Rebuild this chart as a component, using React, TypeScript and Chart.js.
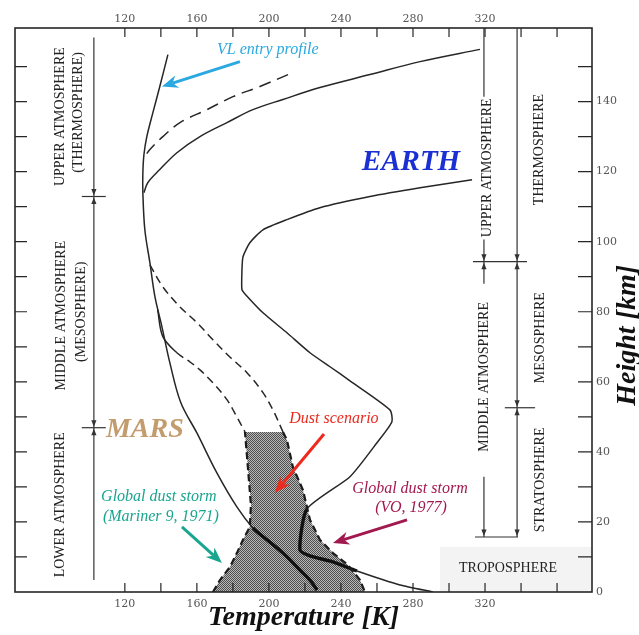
import { useEffect, useRef } from "react";
import { Chart, registerables } from "chart.js";

Chart.register(...registerables);

// Axis ranges: temperature [K] across, height [km] up
const T_MIN = 59;
const T_MAX = 379.4;
const H_MIN = 0;
const H_MAX = 161;

const tempTicks = [120, 140, 160, 180, 200, 220, 240, 260, 280, 300, 320, 340, 360];
const tempTickLabels = [120, 160, 200, 240, 280, 320];
const heightTicks = [0, 10, 20, 30, 40, 50, 60, 70, 80, 90, 100, 110, 120, 130, 140, 150];
const heightTickLabels = [0, 20, 40, 60, 80, 100, 120, 140];

// Mars: Viking lander entry profile
const vlTemp = [143.9, 139.4, 135.6, 132.2, 130.6, 130, 130, 131.1, 133.9, 136.7, 140.6, 145, 151.1, 160, 171.1, 182.2, 191.1, 198.9, 207.8, 217.2, 222.8, 226.7];
const vlHeight = [153.4, 144.3, 136.9, 130, 124.9, 119.7, 114, 103.4, 94, 84.3, 75.7, 65.4, 54, 45.4, 34, 24.3, 18.3, 14.9, 11.1, 6.3, 3.4, 0.6];

// Mars: warm thermosphere branch
const marsHotTemp = [317.2, 283.9, 256.1, 228.3, 207.8, 191.1, 176.7, 161.7, 148.9, 139.4, 132.8, 130.6];
const marsHotHeight = [154.9, 151.4, 147.7, 144, 140.6, 137.7, 134, 130, 125.4, 120.6, 116.9, 114];

// Mars: intermediate thermosphere branch
const marsMidTemp = [210.6, 195, 180, 165.6, 150.6, 141.1, 133.9, 131.1];
const marsMidHeight = [147.7, 144.3, 141.4, 137.7, 134, 130, 126.3, 124.3];

// Mars: dusty middle-atmosphere branches
const dustWarmTemp = [133.9, 141.1, 150.6, 160, 168.9, 178.3, 187.8, 196.7, 202.2, 207.8];
const dustWarmHeight = [93.4, 87.1, 81.4, 76.9, 72, 67.1, 62.6, 56.9, 52, 45.7];
const dustCoolTemp = [138.2, 141.1, 148.9, 156.1, 161.7, 168.9, 176.7, 182.2, 186.7];
const dustCoolHeight = [80.6, 72.9, 68.3, 65.7, 63.4, 59.7, 54.9, 50, 45.7];

// Dust scenario envelope (closed outline)
const envTemp = [186.7, 207.8, 210, 213.3, 218.9, 222.8, 228.3, 235.6, 243.9, 250.6, 253.3, 168.9, 172.8, 178.3, 182.2, 185.6, 189.4, 190, 188.3, 186.7];
const envHeight = [45.7, 45.7, 43.4, 35.7, 29.1, 20.6, 14.9, 11.1, 7.7, 3.4, 0, 0, 3.4, 7.1, 11.1, 14.9, 18.6, 24.9, 35.7, 45.7];

// Earth: standard temperature profile
const earthTemp = [312.8, 283.9, 256.1, 228.3, 210, 196.7, 189.4, 185.6, 185, 185, 186.7, 196.7, 210, 222.8, 233.9, 245, 267.2, 268.3, 260, 245, 221.1, 217.2, 222.8, 235.6, 248.9, 272.8, 291.1];
const earthHeight = [117.7, 115.4, 112.9, 109.7, 106.3, 103.4, 99.7, 95.7, 91.4, 86.3, 85.1, 79.7, 74, 68.3, 64.3, 60.3, 52, 48.6, 42.6, 32.9, 23.7, 12, 10.3, 8.6, 6, 2, 0];

// Layer names: [text, T, h]
const marsLayerNames: [string, number, number][] = [
  ["UPPER ATMOSPHERE", 84.4, 135.7],
  ["(THERMOSPHERE)", 94.4, 136.9],
  ["MIDDLE ATMOSPHERE", 85, 78.9],
  ["(MESOSPHERE)", 95.6, 80],
  ["LOWER ATMOSPHERE", 83.9, 24.9],
];
const earthLayerNames: [string, number, number][] = [
  ["UPPER ATMOSPHERE", 321.1, 121.1],
  ["THERMOSPHERE", 350, 126.3],
  ["MIDDLE ATMOSPHERE", 319.4, 61.4],
  ["MESOSPHERE", 350.6, 72.6],
  ["STRATOSPHERE", 350.6, 32],
];
const troposphereLabel: [string, number, number] = ["TROPOSPHERE", 332.8, 6.9];
const troposphereBox = { t0: 295, h1: 12.9 };

// Layer boundary markers: vertical rules [T, hTop, hBottom, arrowTop, arrowBottom]
const marsLayerRules: [number, number, number, boolean, boolean][] = [
  [102.8, 158.3, 112.9, false, true],
  [102.8, 112.9, 46.9, true, true],
  [102.8, 46.9, 3.4, true, false],
];
const marsLayerBreaks: [number, number, number][] = [
  [112.9, 96.1, 109.4],
  [46.9, 96.1, 109.4],
];
const earthLayerRules: [number, number, number, boolean, boolean][] = [
  [319.4, 161, 141.4, false, false],
  [319.4, 100.6, 94.3, false, true],
  [319.4, 94.3, 88, true, false],
  [319.4, 32.9, 15.7, false, true],
  [337.8, 161, 94.3, false, true],
  [337.8, 94.3, 52.6, true, true],
  [337.8, 52.6, 15.7, true, true],
];
const earthLayerBreaks: [number, number, number][] = [
  [94.3, 313.3, 343.3],
  [52.6, 331, 347.8],
  [15.7, 314.4, 338.3],
];

// Callouts: [text, T, h, colour]
const callouts: [string, number, number, string][] = [
  ["VL entry profile", 199.4, 154.9, "#2aa8e0"],
  ["Dust scenario", 236.1, 49.4, "#ec2a1e"],
  ["Global dust storm", 138.9, 27.1, "#19a58f"],
  ["(Mariner 9, 1971)", 140, 21.4, "#19a58f"],
  ["Global dust storm", 278.3, 29.4, "#a2194f"],
  ["(VO, 1977)", 278.9, 24, "#a2194f"],
];
// Pointers: [T0, h0, T1, h1, colour]
const pointers: [number, number, number, number, string][] = [
  [183.9, 151.4, 140.6, 144.3, "#2aa8e0"],
  [230.6, 45.1, 203.3, 28.3, "#ec2a1e"],
  [151.7, 18.6, 173.9, 8.3, "#19a58f"],
  [276.7, 20.6, 235.6, 14, "#a2194f"],
];
const planetNames: [string, number, number, string, number][] = [
  ["EARTH", 278.9, 122.6, "#1b30d2", 29],
  ["MARS", 131.1, 46.3, "#c29c6c", 28],
];

const INK = "#262626";
const SERIF = '"Liberation Serif", "Times New Roman", serif';

const pts = (xs: number[], ys: number[]) => xs.map((x, i) => ({ x, y: ys[i] }));

// small checkered tile that gives the envelope its halftone look
function halftoneTile() {
  const tile = document.createElement("canvas");
  tile.width = 2;
  tile.height = 2;
  const t = tile.getContext("2d")!;
  t.fillStyle = "#b8b8b8";
  t.fillRect(0, 0, 2, 2);
  t.fillStyle = "#4e4e4e";
  t.fillRect(0, 0, 1, 1);
  t.fillRect(1, 1, 1, 1);
  return tile;
}

const decorations = {
  id: "decorations",
  beforeDatasetsDraw(chart: any) {
    const { ctx, chartArea: a, scales } = chart;
    const X = (t: number) => scales.x.getPixelForValue(t);
    const Y = (h: number) => scales.y.getPixelForValue(h);
    ctx.save();
    // pale panel behind the troposphere label
    const x0 = X(troposphereBox.t0);
    const y0 = Y(troposphereBox.h1);
    ctx.fillStyle = "#f3f3f3";
    ctx.fillRect(x0, y0, a.right - x0, a.bottom - y0);

    // dust envelope fill
    ctx.beginPath();
    ctx.rect(a.left, a.top, a.right - a.left, a.bottom - a.top);
    ctx.clip();
    ctx.beginPath();
    envTemp.forEach((t, i) => {
      const px = X(t);
      const py = Y(envHeight[i]);
      if (i === 0) ctx.moveTo(px, py);
      else ctx.lineTo(px, py);
    });
    ctx.closePath();
    ctx.fillStyle = ctx.createPattern(halftoneTile(), "repeat");
    ctx.fill();
    ctx.restore();
  },
  afterDatasetsDraw(chart: any) {
    const { ctx, chartArea: a, scales } = chart;
    const X = (t: number) => scales.x.getPixelForValue(t);
    const Y = (h: number) => scales.y.getPixelForValue(h);
    ctx.save();

    // frame
    ctx.strokeStyle = INK;
    ctx.lineWidth = 1.6;
    ctx.strokeRect(a.left, a.top, a.right - a.left, a.bottom - a.top);

    // inward tick marks
    ctx.lineWidth = 1.2;
    ctx.beginPath();
    for (const tk of scales.x.ticks) {
      const px = X(tk.value);
      ctx.moveTo(px, a.top);
      ctx.lineTo(px, a.top + 9);
      ctx.moveTo(px, a.bottom);
      ctx.lineTo(px, a.bottom - 9);
    }
    for (const tk of scales.y.ticks) {
      if (tk.value === 0) continue;
      const py = Y(tk.value);
      ctx.moveTo(a.left, py);
      ctx.lineTo(a.left + 12, py);
      ctx.moveTo(a.right, py);
      ctx.lineTo(a.right - 14, py);
    }
    ctx.stroke();

    const vtext = (s: string, px: number, py: number, font: string, color: string) => {
      ctx.save();
      ctx.translate(px, py);
      ctx.rotate(-Math.PI / 2);
      ctx.font = font;
      ctx.fillStyle = color;
      ctx.textAlign = "center";
      ctx.textBaseline = "middle";
      ctx.fillText(s, 0, 0);
      ctx.restore();
    };
    const htext = (s: string, px: number, py: number, font: string, color: string) => {
      ctx.font = font;
      ctx.fillStyle = color;
      ctx.textAlign = "center";
      ctx.textBaseline = "middle";
      ctx.fillText(s, px, py);
    };
    const tri = (px: number, py: number, dir: number) => {
      ctx.beginPath();
      ctx.moveTo(px, py);
      ctx.lineTo(px - 2.6, py - dir * 6.5);
      ctx.lineTo(px + 2.6, py - dir * 6.5);
      ctx.closePath();
      ctx.fill();
    };

    // layer rules and breaks
    ctx.strokeStyle = "#333";
    ctx.fillStyle = "#333";
    ctx.lineWidth = 1.2;
    for (const [t, h0, h1, arTop, arBot] of [...marsLayerRules, ...earthLayerRules]) {
      const px = X(t);
      const y0 = Y(h0);
      const y1 = Y(h1);
      ctx.beginPath();
      ctx.moveTo(px, y0);
      ctx.lineTo(px, y1);
      ctx.stroke();
      if (arTop) tri(px, y0 + 1, -1);
      if (arBot) tri(px, y1 - 1, 1);
    }
    for (const [h, t0, t1] of [...marsLayerBreaks, ...earthLayerBreaks]) {
      ctx.beginPath();
      ctx.moveTo(X(t0), Y(h));
      ctx.lineTo(X(t1), Y(h));
      ctx.stroke();
    }

    const layerFont = `14px ${SERIF}`;
    for (const [s, t, h] of [...marsLayerNames, ...earthLayerNames]) {
      vtext(s, X(t), Y(h), layerFont, "#222");
    }
    htext(troposphereLabel[0], X(troposphereLabel[1]), Y(troposphereLabel[2]), layerFont, "#222");

    // callouts
    for (const [s, t, h, c] of callouts) {
      htext(s, X(t), Y(h), `italic 16px ${SERIF}`, c);
    }
    for (const [t0, h0, t1, h1, c] of pointers) {
      const x0 = X(t0), y0 = Y(h0), x1 = X(t1), y1 = Y(h1);
      const ang = Math.atan2(y1 - y0, x1 - x0);
      const cs = Math.cos(ang), sn = Math.sin(ang);
      const L = 16, W = 6.5;
      const bx = x1 - L * cs, by = y1 - L * sn;
      const nx = x1 - 0.7 * L * cs, ny = y1 - 0.7 * L * sn;
      ctx.strokeStyle = c;
      ctx.fillStyle = c;
      ctx.lineWidth = 3;
      ctx.beginPath();
      ctx.moveTo(x0, y0);
      ctx.lineTo(nx, ny);
      ctx.stroke();
      ctx.beginPath();
      ctx.moveTo(x1, y1);
      ctx.lineTo(bx + W * sn, by - W * cs);
      ctx.lineTo(nx, ny);
      ctx.lineTo(bx - W * sn, by + W * cs);
      ctx.closePath();
      ctx.fill();
    }

    for (const [s, t, h, c, size] of planetNames) {
      htext(s, X(t), Y(h), `italic bold ${size}px ${SERIF}`, c);
    }

    // height axis title, reading upwards on the right
    ctx.save();
    ctx.translate(chart.width - 4, a.top + (a.bottom - a.top) * 0.545);
    ctx.rotate(-Math.PI / 2);
    ctx.font = `italic bold 28px ${SERIF}`;
    ctx.fillStyle = "#111";
    ctx.textAlign = "center";
    ctx.textBaseline = "alphabetic";
    ctx.fillText("Height [km]", 0, 0);
    ctx.restore();

    ctx.restore();
  },
};

export default function App() {
  const canvasRef = useRef<HTMLCanvasElement>(null);

  useEffect(() => {
    document.body.style.margin = "0";
    const canvas = canvasRef.current!;

    const base = {
      borderColor: INK,
      borderWidth: 1.5,
      pointRadius: 0,
      fill: false,
      tension: 0.35,
    };

    const tempAxisTicks = (scale: any) => {
      scale.ticks = tempTicks.map((v) => ({ value: v }));
    };
    const heightAxisTicks = (scale: any) => {
      scale.ticks = heightTicks.map((v) => ({ value: v }));
    };
    const tickFont = { family: '"DejaVu Serif", serif', size: 11 };

    const chart = new Chart(canvas, {
      type: "line",
      data: {
        datasets: [
          {
            ...base,
            data: pts(envTemp, envHeight),
            borderColor: "#1c1c1c",
            borderWidth: 2.2,
            borderDash: [7, 4],
            tension: 0,
            segment: {
              borderColor: (ctx: any) =>
                envHeight[ctx.p0DataIndex] === envHeight[ctx.p1DataIndex] ? "rgba(0,0,0,0)" : undefined,
            },
          },
          {
            ...base,
            data: pts(vlTemp, vlHeight),
            segment: {
              borderWidth: (ctx: any) => (vlHeight[ctx.p0DataIndex] <= 18.5 ? 3.4 : undefined),
              borderColor: (ctx: any) => (vlHeight[ctx.p0DataIndex] <= 18.5 ? "#111" : undefined),
            },
          },
          { ...base, data: pts(marsHotTemp, marsHotHeight) },
          { ...base, data: pts(marsMidTemp, marsMidHeight), borderDash: [12, 7] },
          { ...base, data: pts(dustWarmTemp, dustWarmHeight), borderDash: [8, 5] },
          {
            ...base,
            data: pts(dustCoolTemp, dustCoolHeight),
            borderDash: [8, 5],
            segment: {
              borderDash: (ctx: any) => (ctx.p0DataIndex < 2 ? [] : undefined),
            },
          },
          {
            ...base,
            data: pts(earthTemp, earthHeight),
            tension: 0.2,
            segment: {
              borderWidth: (ctx: any) =>
                earthHeight[ctx.p0DataIndex] <= 24 && earthTemp[ctx.p1DataIndex] < 250 ? 3.4 : undefined,
              borderColor: (ctx: any) =>
                earthHeight[ctx.p0DataIndex] <= 24 && earthTemp[ctx.p1DataIndex] < 250 ? "#111" : undefined,
            },
          },
        ],
      },
      options: {
        animation: false,
        responsive: true,
        maintainAspectRatio: false,
        events: [],
        layout: { padding: 0 },
        plugins: {
          legend: { display: false },
          tooltip: { enabled: false },
        },
        scales: {
          x: {
            type: "linear",
            position: "top",
            min: T_MIN,
            max: T_MAX,
            grid: { display: false, drawTicks: false },
            border: { display: false },
            afterBuildTicks: tempAxisTicks,
            afterFit: (s: any) => {
              s.height = 28;
            },
            ticks: {
              padding: 2,
              autoSkip: false,
              maxRotation: 0,
              color: "#555",
              font: tickFont,
              callback: (v: any) => (tempTickLabels.includes(Number(v)) ? String(v) : ""),
            },
          },
          x2: {
            type: "linear",
            position: "bottom",
            min: T_MIN,
            max: T_MAX,
            grid: { display: false, drawTicks: false },
            border: { display: false },
            afterBuildTicks: tempAxisTicks,
            afterFit: (s: any) => {
              s.height = 43;
            },
            ticks: {
              padding: 6,
              autoSkip: false,
              maxRotation: 0,
              color: "#555",
              font: tickFont,
              callback: (v: any) => (tempTickLabels.includes(Number(v)) ? String(v) : ""),
            },
            title: {
              display: true,
              text: "Temperature [K]",
              color: "#111",
              padding: 0,
              font: { family: SERIF, size: 28, style: "italic", weight: "bold" },
            },
          },
          y: {
            type: "linear",
            position: "left",
            min: H_MIN,
            max: H_MAX,
            grid: { display: false, drawTicks: false },
            border: { display: false },
            afterBuildTicks: heightAxisTicks,
            afterFit: (s: any) => {
              s.width = 15;
            },
            ticks: { display: false },
          },
          y2: {
            type: "linear",
            position: "right",
            min: H_MIN,
            max: H_MAX,
            grid: { display: false, drawTicks: false },
            border: { display: false },
            afterBuildTicks: heightAxisTicks,
            afterFit: (s: any) => {
              s.width = 47;
            },
            ticks: {
              padding: 4,
              autoSkip: false,
              color: "#555",
              font: tickFont,
              callback: (v: any) => (heightTickLabels.includes(Number(v)) ? String(v) : ""),
            },
          },
        },
      },
      plugins: [decorations],
    } as any);

    return () => chart.destroy();
  }, []);

  return (
    <div style={{ position: "relative", width: 639, height: 635 }}>
      <canvas ref={canvasRef} />
    </div>
  );
}
